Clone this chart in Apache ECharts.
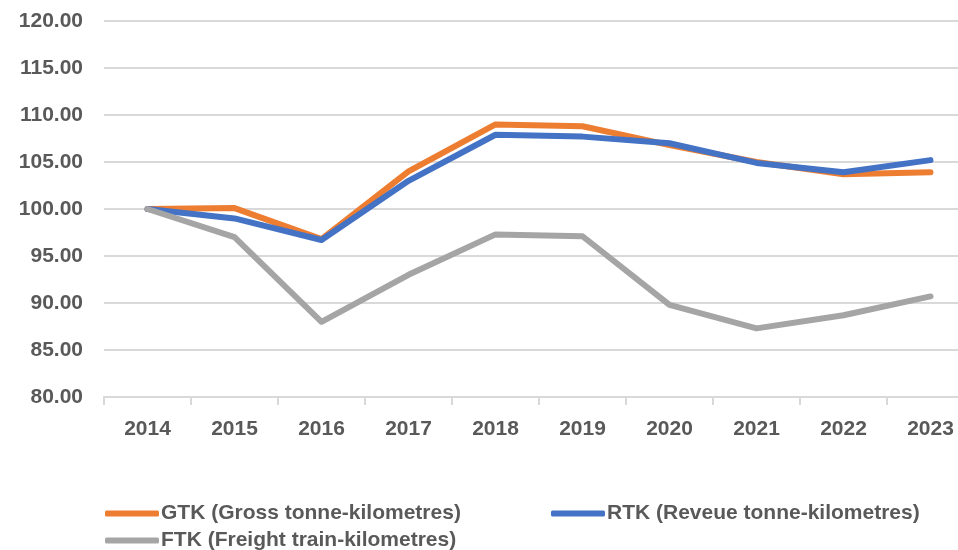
<!DOCTYPE html>
<html>
<head>
<meta charset="utf-8">
<script src="https://cdn.jsdelivr.net/npm/echarts@6/dist/echarts.min.js"></script>
<style>
  html, body { margin: 0; padding: 0; background: #fff; overflow: hidden; }
  /* wider than the window: the plot area runs off the right edge like the original crop */
  #chart { width: 974px; height: 550px; }
</style>
</head>
<body>
<div id="chart"></div>
<script>
const years = ['2014', '2015', '2016', '2017', '2018', '2019', '2020', '2021', '2022', '2023'];
const gtk = [100.0, 100.1, 96.8, 104.0, 109.0, 108.8, 106.8, 105.0, 103.7, 103.9];
const rtk = [100.0, 99.0, 96.7, 103.0, 107.9, 107.7, 107.0, 104.9, 103.9, 105.2];
const ftk = [100.0, 97.0, 88.0, 93.0, 97.3, 97.1, 89.8, 87.3, 88.7, 90.7];
const names = ['GTK (Gross tonne-kilometres)', 'RTK (Reveue tonne-kilometres)', 'FTK (Freight train-kilometres)'];
const colors = ['#ED7D31', '#4472C4', '#A5A5A5'];

const chart = echarts.init(document.getElementById('chart'));
const font = 'Liberation Sans';
const textColor = '#595959';

const legendBase = {
  icon: 'roundRect',
  itemWidth: 54,
  itemHeight: 6,
  itemGap: 4,
  textStyle: { fontFamily: font, fontSize: 21, fontWeight: 'bold', color: textColor, padding: [0, 0, 0, -3] }
};

const option = {
  backgroundColor: '#fff',
  animation: false,
  grid: { left: 104, right: 0, top: 21, bottom: 153 },
  legend: [
    Object.assign({ data: [names[0]], left: 100, top: 498 }, legendBase),
    Object.assign({ data: [names[1]], left: 546, top: 498 }, legendBase),
    Object.assign({ data: [names[2]], left: 100, top: 525 }, legendBase)
  ],
  xAxis: {
    type: 'category',
    data: years,
    boundaryGap: true,
    axisLine: { lineStyle: { color: '#d9d9d9', width: 2 } },
    axisTick: { show: true, length: 8, lineStyle: { color: '#d9d9d9', width: 2 } },
    axisLabel: { margin: 22, fontFamily: font, fontSize: 21, fontWeight: 'bold', color: textColor }
  },
  yAxis: {
    type: 'value',
    min: 80,
    max: 120,
    interval: 5,
    axisLine: { show: false },
    axisTick: { show: false },
    splitLine: { lineStyle: { color: '#d9d9d9', width: 2 } },
    axisLabel: {
      margin: 21,
      fontFamily: font, fontSize: 21, fontWeight: 'bold', color: textColor,
      formatter: v => v.toFixed(2)
    }
  },
  series: [
    { name: names[0], type: 'line', data: gtk },
    { name: names[1], type: 'line', data: rtk },
    { name: names[2], type: 'line', data: ftk }
  ].map((s, i) => Object.assign(s, {
    color: colors[i],
    symbol: 'none',
    lineStyle: { width: 6, color: colors[i], cap: 'round', join: 'round' },
    itemStyle: { color: colors[i] }
  }))
};

chart.setOption(option);
</script>
</body>
</html>
